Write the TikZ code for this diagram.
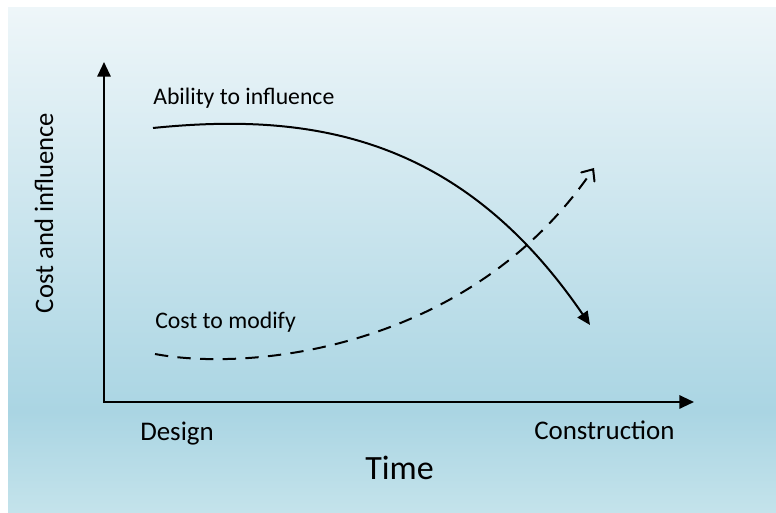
\documentclass[tikz,border=0pt]{standalone}
\usepackage{fontspec}
\setmainfont{Carlito}
\usetikzlibrary{arrows.meta}

\definecolor{bgtop}{HTML}{EEF6F9}
\definecolor{bgdark}{HTML}{AAD5E3}
\definecolor{bgbottom}{HTML}{C4E3EB}
\pgfdeclareverticalshading{skyfade}{100bp}{color(0bp)=(bgbottom); color(25bp)=(bgbottom); color(35bp)=(bgdark); color(75bp)=(bgtop); color(100bp)=(bgtop)}

\begin{document}
\begin{tikzpicture}[
    x=0.75pt, y=-0.75pt,
    axis/.style={
        line width=1.5pt,
        line join=miter,
        {Triangle[length=11pt,width=10pt]}-{Triangle[length=11pt,width=10pt]}
    },
    curve/.style={
        line width=1.5pt
    },
    costline/.style={
        curve,
        dash pattern=on 10pt off 7pt,
        -{Straight Barb[length=7pt,width=12pt,line cap=round]}
    },
    lbl/.style={
        inner sep=0pt,
        anchor=base west,
        font=\fontsize{17.8}{20}\selectfont
    },
    ticklbl/.style={
        lbl,
        font=\fontsize{20.2}{22}\selectfont
    }
    ]
    \useasboundingbox (0,0) rectangle (776,513);
    \shade[shading=skyfade] (8,8) rectangle (776,513);

    % axes
    \coordinate (origin) at (104,402);
    \coordinate (ytop) at (104,62);
    \coordinate (xend) at (694,402);
    \draw[axis] (ytop) -- (origin) -- (xend);

    % curves
    \coordinate (abilstart) at (153,128);
    \coordinate (abilend) at (590,325);
    \coordinate (coststart) at (155,354);
    \coordinate (costend) at (594,168);
    \draw[curve, -{Triangle[length=10pt,width=9pt]}] (abilstart) .. controls (310,112) and (460,135) .. (abilend);
    \draw[costline] (coststart) .. controls (250,372) and (470,350) .. (costend);

    % labels
    \node[lbl] (abil) at (153,105) {Ability to influence};
    \node[lbl] (cost) at (155,329) {Cost to modify};
    \node[ticklbl] (design) at (140,441) {Design};
    \node[ticklbl] (constr) at (534,440) {Construction};
    \node[lbl, font=\fontsize{25.5}{28}\selectfont] (time) at (365,480) {Time};
    \node[inner sep=0pt, anchor=base, rotate=90, font=\fontsize{20}{22}\selectfont] (ylbl) at (53,213) {Cost and influence};
\end{tikzpicture}
\end{document}
